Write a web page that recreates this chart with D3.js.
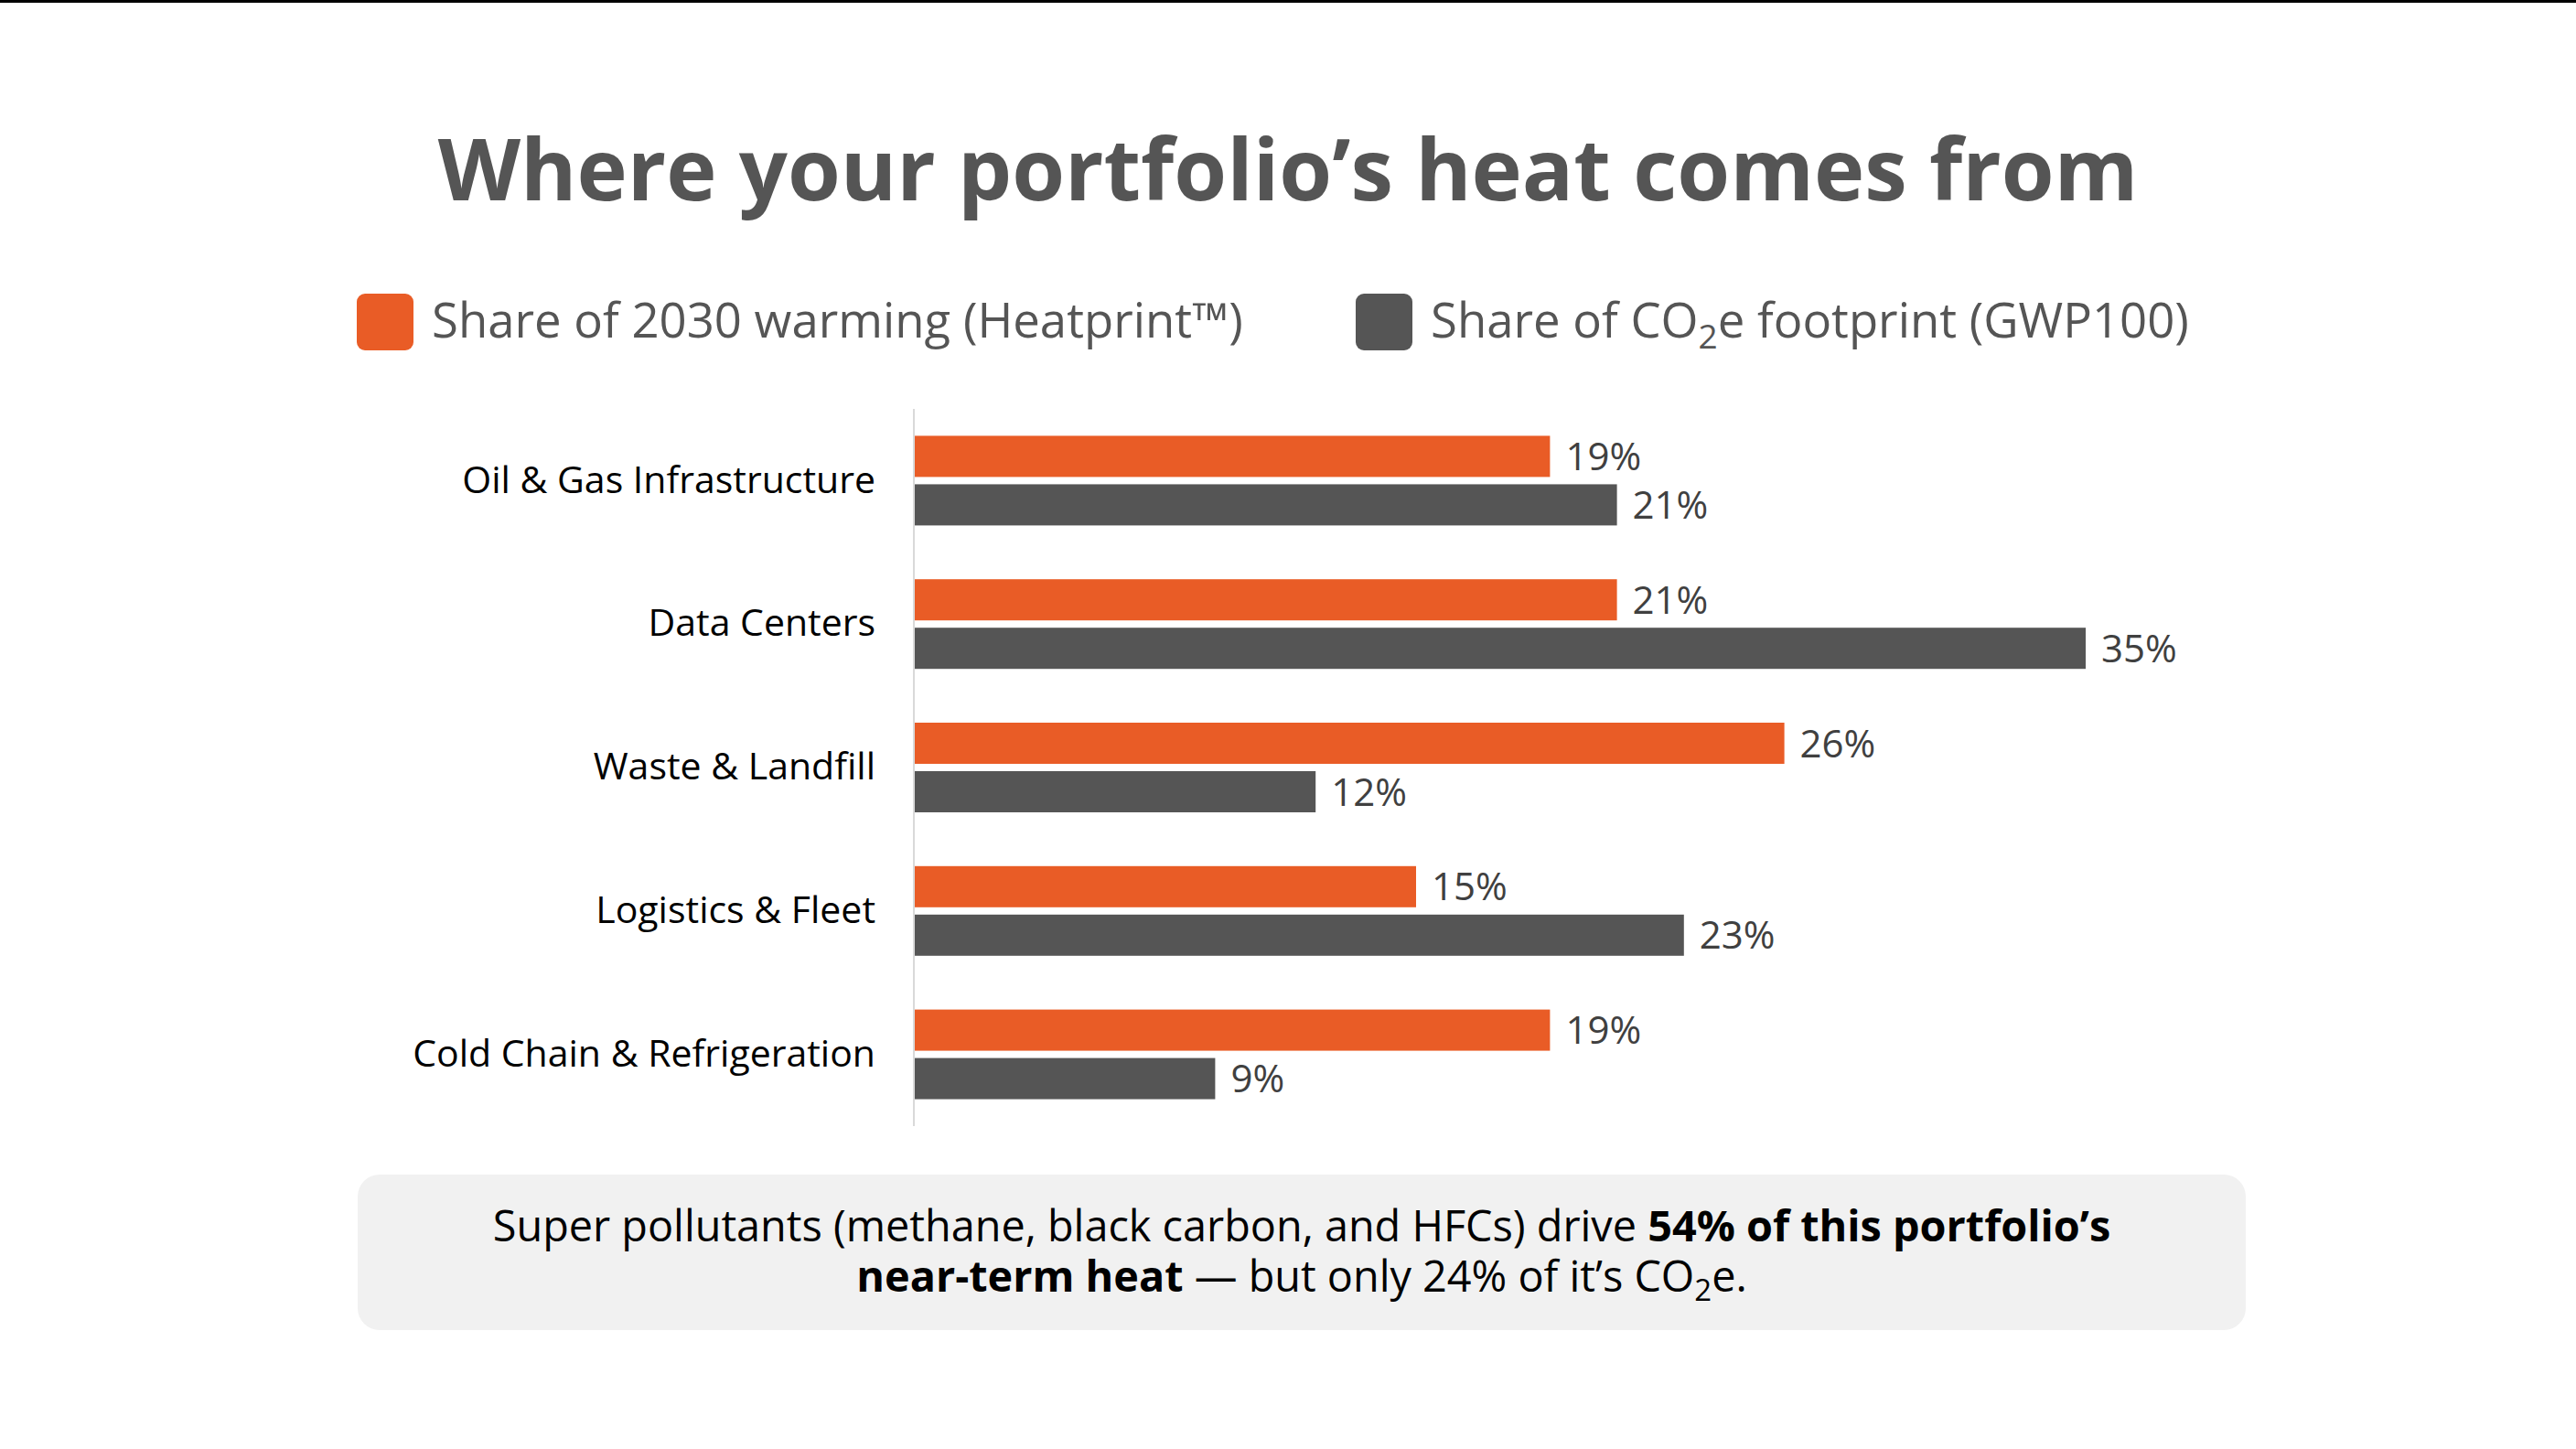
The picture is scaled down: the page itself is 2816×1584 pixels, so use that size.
<!DOCTYPE html>
<html>
<head>
<meta charset="utf-8">
<script src="https://cdn.jsdelivr.net/npm/d3@7"></script>
<style>
  body { margin: 0; background: #fff; }
  svg { display: block; font-family: "Open Sans", sans-serif; }
</style>
</head>
<body>
<svg id="chart" width="2816" height="1584"></svg>
<script>
(() => {

    // data
    const categories = ['Oil & Gas Infrastructure', 'Data Centers', 'Waste & Landfill', 'Logistics & Fleet', 'Cold Chain & Refrigeration'];
    const series_keys = ['warming', 'co2'];
    const warming_share = [19, 21, 26, 15, 19];
    const co2_share = [21, 35, 12, 23, 9];

    const colors = { warming: '#e95c26', co2: '#555555' };

    // chart parameters
    const width = 2816;
    const axis_x = 999;
    const x_end = 2280;
    const top_y = 447;
    const bottom_y = 1231;

    let svg = d3.select('#chart');

    // thin black border at top
    svg.append('rect')
        .attr('x', 0).attr('y', 0)
        .attr('width', width).attr('height', 3)
        .attr('fill', '#000');

    // title
    svg.append('text')
        .attr('x', width / 2)
        .attr('y', 219)
        .attr('text-anchor', 'middle')
        .style('font-size', '93.5px')
        .style('font-weight', 'bold')
        .style('fill', '#555555')
        .text('Where your portfolio\u2019s heat comes from');

    // legend
    let legend = svg.append('g');
    let legend_items = [
        { key: 'warming', x: 390, parts: [['Share of 2030 warming (Heatprint\u2122)', false]] },
        { key: 'co2', x: 1482, parts: [['Share of CO', false], ['2', true], ['e footprint (GWP100)', false]] }
    ];
    legend_items.forEach((item) => {
        legend.append('rect')
            .attr('x', item.x).attr('y', 321)
            .attr('width', 62).attr('height', 62)
            .attr('rx', 9)
            .attr('fill', colors[item.key]);
        let t = legend.append('text')
            .attr('x', item.x + 82)
            .attr('y', 369)
            .style('font-size', '52.7px')
            .style('fill', '#555555');
        item.parts.forEach(([s, sub]) => {
            let ts = t.append('tspan').text(s);
            if (sub) ts.attr('dy', 12).style('font-size', '37px');
            else if (s.startsWith('e')) ts.attr('dy', -12);
        });
    });

    // scales
    let y_scale = d3.scaleBand()
        .domain(categories)
        .range([top_y, bottom_y])
        .paddingInner(0.375)
        .paddingOuter(0.1875);

    let sub_scale = d3.scaleBand()
        .domain(series_keys)
        .range([0, y_scale.bandwidth()])
        .paddingInner(0.151);

    let x_scale = d3.scaleLinear()
        .domain([0, d3.max(co2_share.concat(warming_share))])
        .range([axis_x, x_end]);

    // axis line
    svg.append('line')
        .attr('x1', axis_x).attr('x2', axis_x)
        .attr('y1', top_y).attr('y2', bottom_y)
        .attr('stroke', '#d9d9d9')
        .attr('stroke-width', 2);

    // category labels
    let y_axis = d3.axisLeft(y_scale).tickSize(0).tickPadding(42);
    let axis_g = svg.append('g')
        .attr('transform', `translate(${axis_x}, 0)`)
        .call(y_axis);
    axis_g.select('.domain').remove();
    axis_g.selectAll('text')
        .style('font-family', '"Open Sans", sans-serif')
        .style('font-size', '41px')
        .style('fill', '#000');

    // bars
    let rows = categories.map((c, i) => ({ category: c, warming: warming_share[i], co2: co2_share[i] }));

    let groups = svg.append('g')
        .selectAll('g')
        .data(rows)
        .enter()
        .append('g')
        .attr('transform', (d) => `translate(0, ${y_scale(d.category)})`);

    groups.selectAll('rect')
        .data((d) => series_keys.map((k) => ({ key: k, value: d[k] })))
        .enter()
        .append('rect')
        .attr('x', x_scale(0) + 1)
        .attr('y', (d) => sub_scale(d.key))
        .attr('width', (d) => x_scale(d.value) - x_scale(0) - 1)
        .attr('height', sub_scale.bandwidth())
        .attr('fill', (d) => colors[d.key]);

    groups.selectAll('text')
        .data((d) => series_keys.map((k) => ({ key: k, value: d[k] })))
        .enter()
        .append('text')
        .attr('x', (d) => x_scale(d.value) + 17)
        .attr('y', (d) => sub_scale(d.key) + sub_scale.bandwidth() / 2)
        .attr('dy', '0.36em')
        .style('font-size', '42px')
        .style('fill', '#404040')
        .text((d) => d.value + '%');

    // note box
    const box = { x: 391, y: 1284, w: 2064, h: 170 };
    svg.append('rect')
        .attr('x', box.x).attr('y', box.y)
        .attr('width', box.w).attr('height', box.h)
        .attr('rx', 24)
        .attr('fill', '#f1f1f1');

    const note_x = box.x + box.w / 2;

    let line1 = svg.append('text')
        .attr('x', note_x).attr('y', 1357)
        .attr('text-anchor', 'middle')
        .style('font-size', '46.8px')
        .style('fill', '#000');
    line1.append('tspan').text('Super pollutants (methane, black carbon, and HFCs) drive ');
    line1.append('tspan').style('font-weight', 'bold').text('54% of this portfolio\u2019s');

    let line2 = svg.append('text')
        .attr('x', note_x).attr('y', 1412)
        .attr('text-anchor', 'middle')
        .style('font-size', '46.8px')
        .style('fill', '#000');
    line2.append('tspan').style('font-weight', 'bold').text('near-term heat');
    line2.append('tspan').text(' \u2014 but only 24% of it\u2019s CO');
    line2.append('tspan').attr('dy', 10).style('font-size', '33px').text('2');
    line2.append('tspan').attr('dy', -10).text('e.');

})();
</script>
</body>
</html>
